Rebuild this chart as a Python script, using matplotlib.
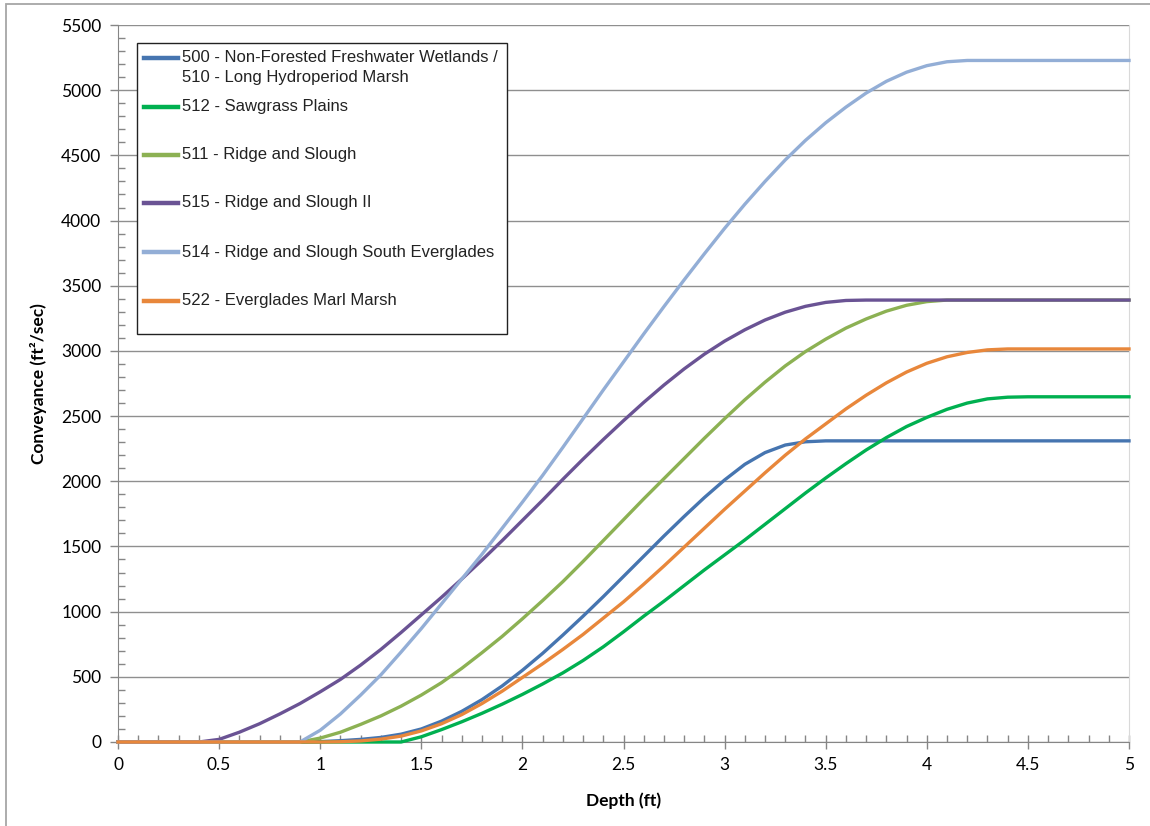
import matplotlib
matplotlib.use("Agg")
import matplotlib.pyplot as plt
import matplotlib.ticker as ticker
from matplotlib.patches import Rectangle
from matplotlib.lines import Line2D

# depth (ft), read every 0.1 ft
depth = [0.0, 0.1, 0.2, 0.3, 0.4, 0.5, 0.6, 0.7, 0.8, 0.9,
         1.0, 1.1, 1.2, 1.3, 1.4, 1.5, 1.6, 1.7, 1.8, 1.9,
         2.0, 2.1, 2.2, 2.3, 2.4, 2.5, 2.6, 2.7, 2.8, 2.9,
         3.0, 3.1, 3.2, 3.3, 3.4, 3.5, 3.6, 3.7, 3.8, 3.9,
         4.0, 4.1, 4.2, 4.3, 4.4, 4.5, 4.6, 4.7, 4.8, 4.9, 5.0]

# conveyance (ft2/sec) per habitat type
conv_500 = [0, 0, 0, 0, 0, 0, 0, 0, 0, 0,
            3, 10, 20, 35, 60, 100, 160, 235, 325, 430,
            550, 680, 820, 965, 1115, 1270, 1425, 1580, 1730, 1875,
            2010, 2130, 2220, 2278, 2303, 2310, 2310, 2310, 2310, 2310,
            2310, 2310, 2310, 2310, 2310, 2310, 2310, 2310, 2310, 2310, 2310]
conv_512 = [0, 0, 0, 0, 0, 0, 0, 0, 0, 0,
            0, 0, 0, 0, 0, 40, 95, 155, 220, 290,
            365, 445, 530, 625, 730, 845, 965, 1080, 1200, 1320,
            1435, 1550, 1670, 1790, 1910, 2025, 2135, 2240, 2335, 2420,
            2490, 2552, 2600, 2632, 2645, 2648, 2648, 2648, 2648, 2648, 2648]
conv_511 = [0, 0, 0, 0, 0, 0, 0, 0, 0, 0,
            30, 75, 135, 200, 275, 360, 455, 565, 685, 810,
            945, 1085, 1230, 1385, 1545, 1705, 1865, 2020, 2175, 2330,
            2480, 2625, 2760, 2885, 2995, 3090, 3175, 3245, 3305, 3350,
            3378, 3390, 3390, 3390, 3390, 3390, 3390, 3390, 3390, 3390, 3390]
conv_515 = [0, 0, 0, 0, 0, 20, 75, 140, 215, 295,
            385, 480, 590, 710, 840, 975, 1110, 1250, 1395, 1545,
            1700, 1855, 2015, 2170, 2320, 2465, 2605, 2738, 2862, 2975,
            3075, 3162, 3237, 3297, 3342, 3372, 3387, 3390, 3390, 3390,
            3390, 3390, 3390, 3390, 3390, 3390, 3390, 3390, 3390, 3390, 3390]
conv_514 = [0, 0, 0, 0, 0, 0, 0, 0, 0, 0,
            90, 215, 360, 515, 690, 870, 1060, 1250, 1440, 1640,
            1840, 2045, 2260, 2480, 2700, 2915, 3130, 3340, 3545, 3745,
            3940, 4125, 4300, 4465, 4615, 4750, 4870, 4978, 5068, 5138,
            5188, 5218, 5228, 5228, 5228, 5228, 5228, 5228, 5228, 5228, 5228]
conv_522 = [0, 0, 0, 0, 0, 0, 0, 0, 0, 0,
            0, 2, 8, 22, 45, 85, 140, 210, 295, 390,
            495, 600, 710, 825, 950, 1075, 1210, 1350, 1495, 1640,
            1785, 1925, 2065, 2200, 2325, 2440, 2555, 2660, 2755, 2838,
            2905, 2955, 2988, 3008, 3015, 3015, 3015, 3015, 3015, 3015, 3015]

labels = ["500 - Non-Forested Freshwater Wetlands /\n510 - Long Hydroperiod Marsh",
          "512 - Sawgrass Plains",
          "511 - Ridge and Slough",
          "515 - Ridge and Slough II",
          "514 - Ridge and Slough South Everglades",
          "522 - Everglades Marl Marsh"]
series = [conv_500, conv_512, conv_511, conv_515, conv_514, conv_522]
colors = ["#4675b0", "#00b050", "#8cb153", "#6a5394", "#93aed6", "#e8873b"]

W, H = 1150, 826
fig = plt.figure(figsize=(W / 100, H / 100), dpi=100)
ax = fig.add_axes([118 / W, 1 - 742 / H, (1129 - 118) / W, (742 - 25) / H])

# outer chart frame
fig.patches.append(Rectangle((6 / W, -0.1), 1.2, 1 - 4 / H + 0.1,
                             transform=fig.transFigure, fill=False,
                             edgecolor="#a6a6a6", lw=1.3))

for vals, col in zip(series, colors):
    ax.plot(depth, vals, color=col, lw=2.4, clip_on=False, zorder=3,
            solid_joinstyle="round")

ax.set_xlim(0, 5)
ax.set_ylim(0, 5500)
ax.xaxis.set_major_locator(ticker.MultipleLocator(0.5))
ax.xaxis.set_minor_locator(ticker.MultipleLocator(0.1))
ax.yaxis.set_major_locator(ticker.MultipleLocator(500))
ax.yaxis.set_minor_locator(ticker.MultipleLocator(100))
ax.xaxis.set_major_formatter(ticker.FuncFormatter(lambda v, p: f"{v:g}"))
ax.yaxis.grid(True, which="major", color="#8f8f8f", lw=1.0)
ax.set_axisbelow(True)

ax.spines["top"].set_visible(False)
ax.spines["right"].set_color("#d9d9d9")
ax.spines["left"].set_color("#868686")
ax.spines["bottom"].set_color("#868686")
ax.tick_params(which="major", direction="inout", length=10, width=1,
               color="#868686", labelsize=12.5, pad=6)
ax.tick_params(which="minor", direction="in", length=5, width=1,
               color="#868686")
ax.tick_params(axis="y", which="major", direction="out", length=6)
for lab in ax.get_xticklabels() + ax.get_yticklabels():
    lab.set_family("Lato")

ax.set_xlabel("Depth (ft)", fontsize=12.5, fontweight="bold",
              family="Lato", labelpad=14)
ax.set_ylabel("Conveyance (ft\u00b2/sec)", fontsize=12.5, fontweight="bold",
              family="Lato", labelpad=10)


# legend box drawn by hand so the first handle sits on the first line
def fx(px):
    return px / W


def fy(py):
    return 1 - py / H


fig.patches.append(Rectangle((fx(137), fy(334)), fx(507) - fx(137),
                             fy(43) - fy(334), transform=fig.transFigure,
                             facecolor="white", edgecolor="#222222", lw=1.0,
                             zorder=5))
row_y = [58, 107, 155, 203, 252, 301]
for lab, col, py in zip(labels, colors, row_y):
    fig.lines.append(Line2D([fx(144), fx(178)], [fy(py), fy(py)],
                            transform=fig.transFigure, color=col, lw=3.2,
                            zorder=6))
    lines = lab.split("\n")
    for k, line in enumerate(lines):
        fig.text(fx(182), fy(py + 19.5 * k), line, fontsize=12,
                 family="Liberation Sans", va="center", ha="left",
                 color="#222222", zorder=6)

fig.savefig("out.png", dpi=100)
